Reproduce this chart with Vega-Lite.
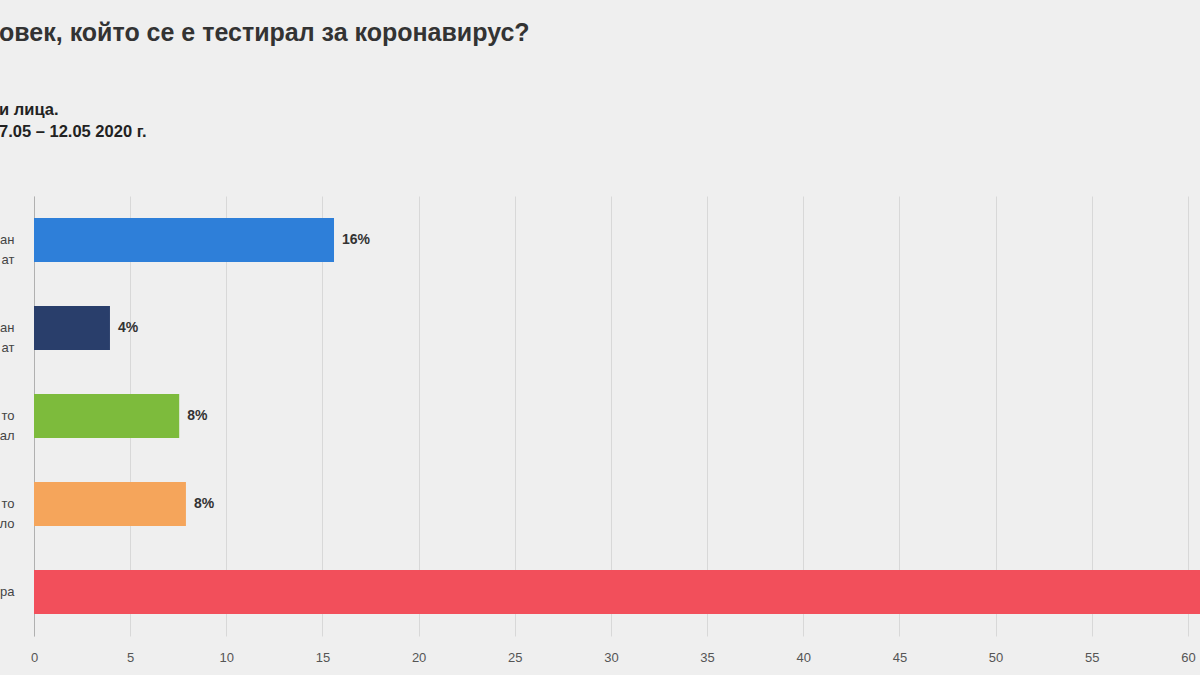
{
  "$schema": "https://vega.github.io/schema/vega-lite/v6.json",
  "width": 1166,
  "height": 440,
  "autosize": {"type": "none"},
  "padding": {"left": 34, "top": 196, "right": 0, "bottom": 39},
  "background": "#efefef",
  "config": {
    "view": {"stroke": null},
    "font": "Liberation Sans"
  },
  "title": {
    "text": "овек, който се е тестирал за коронавирус?",
    "subtitle": ["и лица.", "7.05 – 12.05 2020 г."],
    "anchor": "start",
    "fontSize": 25,
    "fontWeight": "bold",
    "color": "#333333",
    "subtitleFontSize": 16.5,
    "subtitleFontWeight": "bold",
    "subtitleColor": "#222222",
    "subtitleLineHeight": 22,
    "subtitlePadding": 56,
    "offset": 56
  },
  "data": {
    "values": [
      {"row": "1|ан|ат", "value": 15.6, "label": "16%"},
      {"row": "2|ан|ат", "value": 3.95, "label": "4%"},
      {"row": "3|то|ал", "value": 7.55, "label": "8%"},
      {"row": "4|то|ло", "value": 7.9, "label": "8%"},
      {"row": "5|ра", "value": 64, "label": "64%"}
    ]
  },
  "encoding": {
    "y": {
      "field": "row",
      "type": "nominal",
      "sort": null,
      "scale": {"paddingInner": 0.5, "paddingOuter": 0.25},
      "axis": {
        "title": null,
        "labelExpr": "slice(split(datum.value, '|'), 1)",
        "labelLineHeight": 20,
        "labelFontSize": 13,
        "labelColor": "#444444",
        "labelPadding": 20,
        "ticks": false,
        "domain": true,
        "domainColor": "#b0b0b0",
        "grid": false
      }
    },
    "x": {
      "field": "value",
      "type": "quantitative",
      "scale": {"domain": [0, 60.63], "nice": false},
      "axis": {
        "title": null,
        "values": [0, 5, 10, 15, 20, 25, 30, 35, 40, 45, 50, 55, 60],
        "grid": true,
        "gridColor": "#d8d8d8",
        "ticks": false,
        "domain": false,
        "labelFlush": false,
        "labelPadding": 15,
        "labelFontSize": 13,
        "labelColor": "#555555"
      }
    }
  },
  "layer": [
    {
      "mark": {"type": "bar", "clip": true},
      "encoding": {
        "color": {
          "field": "row",
          "type": "nominal",
          "legend": null,
          "scale": {
            "domain": ["1|ан|ат", "2|ан|ат", "3|то|ал", "4|то|ло", "5|ра"],
            "range": ["#2e7fd9", "#293e6b", "#7dbb3c", "#f5a55b", "#f24f5b"]
          }
        }
      }
    },
    {
      "mark": {"type": "text", "align": "left", "dx": 8, "fontWeight": "bold", "fontSize": 14, "color": "#333333"},
      "encoding": {"text": {"field": "label"}}
    }
  ]
}
